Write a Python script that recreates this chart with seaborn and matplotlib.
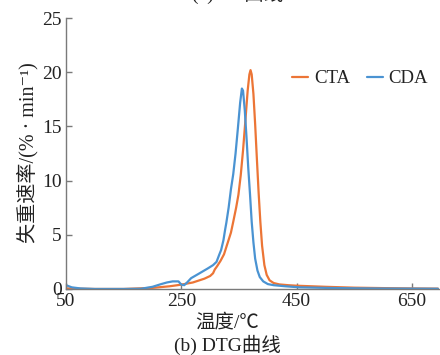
import numpy as np
import pandas as pd
import matplotlib
matplotlib.use("Agg")
import matplotlib.pyplot as plt
import seaborn as sns

# Temperatures (°C) and DTG values (%/min)
cta_T = [50, 100, 150, 200, 230, 250, 270, 290, 300, 305, 308, 312, 318, 324, 330, 336, 340, 345,
         349, 353, 357, 361, 365, 368, 370, 372, 375, 378, 381, 384, 387, 390, 394, 398, 403, 410,
         420, 435, 450, 500, 550, 600, 650, 695]
cta_y = [0.05, 0.0, 0.0, 0.1, 0.25, 0.4, 0.6, 0.95, 1.2, 1.45, 1.8, 2.1, 2.6, 3.2, 4.2, 5.2, 6.2, 7.5,
         8.7, 10.5, 12.8, 15.5, 18.3, 19.8, 20.2, 19.8, 18.0, 15.2, 12.0, 8.9, 6.2, 4.0, 2.2, 1.3, 0.8, 0.55,
         0.42, 0.35, 0.3, 0.2, 0.12, 0.08, 0.05, 0.03]

cda_T = [50, 60, 75, 100, 150, 180, 200, 215, 225, 235, 245, 250, 255, 260, 267, 280, 296, 305, 311,
         316, 319, 323, 326, 328, 332, 336, 340, 344, 348, 352, 355, 357, 360, 363, 366, 369, 372, 375,
         378, 382, 386, 392, 400, 410, 430, 455, 500, 550, 600, 650, 695]
cda_y = [0.35, 0.15, 0.05, 0.0, 0.0, 0.02, 0.2, 0.45, 0.6, 0.7, 0.7, 0.4, 0.35, 0.6, 1.0, 1.4, 1.9, 2.2, 2.5,
         3.2, 3.6, 4.5, 5.5, 6.1, 7.5, 9.2, 10.6, 12.5, 14.8, 17.2, 18.5, 18.3, 16.5, 14.0, 11.2, 8.8, 6.2, 4.3,
         2.8, 1.7, 1.1, 0.7, 0.45, 0.35, 0.25, 0.15, 0.1, 0.06, 0.04, 0.03, 0.02]

series_names = ["CTA", "CDA"]
x_ticks = [50, 250, 450, 650]
y_ticks = [0, 5, 10, 15, 20, 25]

df = pd.concat([
    pd.DataFrame({"T": cta_T, "v": cta_y, "s": "CTA"}),
    pd.DataFrame({"T": cda_T, "v": cda_y, "s": "CDA"}),
], ignore_index=True)

sns.set_style("ticks")
plt.rcParams["font.family"] = ["Liberation Serif", "Noto Sans CJK SC", "DejaVu Sans"]

fig = plt.figure(figsize=(4.4, 3.55), dpi=100)
ax = fig.add_axes([0.15, 0.186, 0.848, 0.763])

palette = {"CTA": "#EC7536", "CDA": "#4A93D2"}
sns.lineplot(data=df, x="T", y="v", hue="s", hue_order=series_names, palette=palette,
             ax=ax, linewidth=1.6, sort=False, estimator=None)

ax.set_xlim(50, 697)
ax.set_ylim(0, 25)
ax.set_xticks(x_ticks)
ax.set_yticks(y_ticks)
for s in ["top", "right"]:
    ax.spines[s].set_visible(False)
for s in ["left", "bottom"]:
    ax.spines[s].set_color("#7a7a7a")
    ax.spines[s].set_linewidth(1.0)
ax.tick_params(direction="in", length=4, width=1, color="#7a7a7a",
               labelsize=14, labelcolor="#222222", pad=3)

ax.set_xlabel("温度/℃", fontsize=14, color="#222222", va="center")
ax.xaxis.set_label_coords(0.432, -0.125)
ax.set_ylabel("失重速率/(% · min⁻¹)", fontsize=14.5, color="#222222", va="center")
ax.yaxis.set_label_coords(-0.102, 0.505)

leg = ax.legend(loc="upper right", bbox_to_anchor=(1.0, 0.85), frameon=False, ncol=2,
                fontsize=13.5, handlelength=0.85, handletextpad=0.3, columnspacing=0.9,
                borderaxespad=0.2)
for t in leg.get_texts():
    t.set_color("#222222")

fig.text(0.516, 0.028, "(b) DTG曲线", ha="center", va="center", fontsize=14, color="#222222")
fig.text(0.54, 1 - 4 / 355, "(a) TG曲线", ha="center", va="bottom", fontsize=14, color="#222222")

fig.savefig("out.png", dpi=100)
